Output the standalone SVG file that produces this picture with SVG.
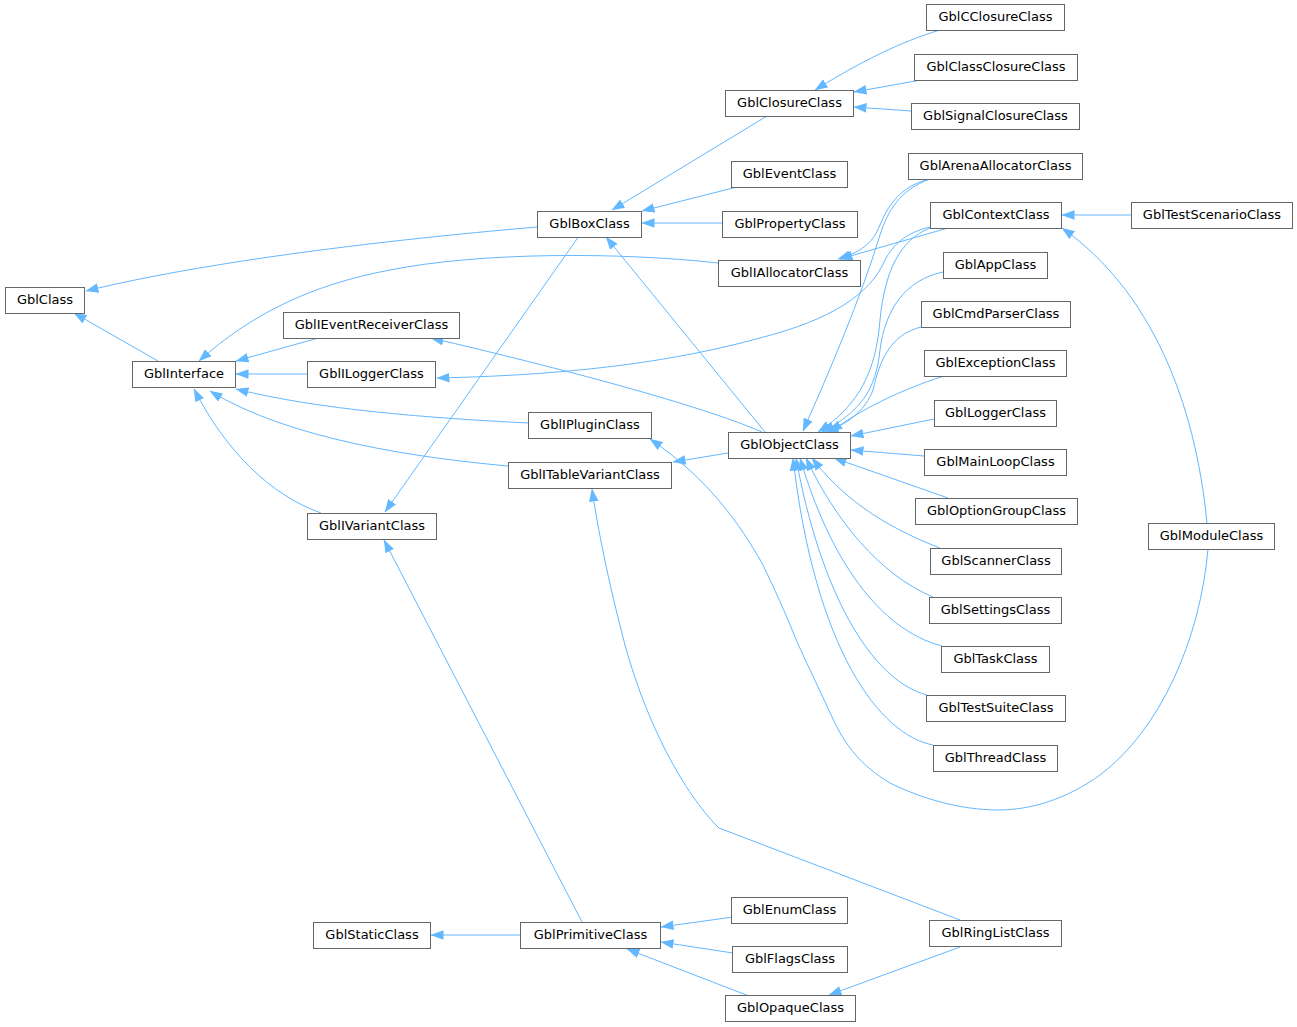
<svg xmlns="http://www.w3.org/2000/svg" width="1297" height="1027" viewBox="0 0 1297 1027">
<style>
.n rect{fill:#ffffff;stroke:#666666;stroke-width:1}
.n text{font-family:"DejaVu Sans","Liberation Sans",sans-serif;font-size:13px;fill:#000000;text-anchor:middle;transform:translateY(-1px)}
.e path{fill:none;stroke:#63b8ff;stroke-width:1;marker-end:url(#ah)}
</style>
<defs>
<marker id="ah" viewBox="0 0 13 10" refX="12.5" refY="5" markerWidth="13" markerHeight="10" markerUnits="userSpaceOnUse" orient="auto">
<path d="M0,0.2 L13,5 L0,9.8 z" fill="#63b8ff" stroke="none"/>
</marker>
</defs>
<rect width="1297" height="1027" fill="#ffffff"/>
<g id="connectors" class="e">
<path d="M537,227 C420,237 220,258 86,291"/>
<path d="M158,361 L74,313"/>
<path d="M718,263 C620,252 480,252 390,270 C310,285 250,315 199,361"/>
<path d="M322,337 L236,361"/>
<path d="M307,374 L236,374"/>
<path d="M528,423 C430,418 320,410 236,389"/>
<path d="M508,466 C420,458 290,440 210,391"/>
<path d="M321,513 C270,495 225,450 194,389"/>
<path d="M762,432 C700,405 560,368 431,338"/>
<path d="M930,227 C905,233 893,245 885,260 C870,295 830,320 760,338 C680,360 580,375 437,378"/>
<path d="M1208,549 C1200,640 1160,730 1100,775 C1065,800 1030,810 998,810 C960,810 920,798 890,783 C860,765 845,745 832,717 C815,680 805,660 795,637 C785,612 775,590 762,563 C740,525 710,480 650,439"/>
<path d="M728,453 L673,462"/>
<path d="M960,920 L719,828 C690,800 650,735 625,645 C608,580 598,530 592,489"/>
<path d="M579,236 L385,512"/>
<path d="M582,922 L384,540"/>
<path d="M767,116 L612,210"/>
<path d="M737,187 L642,211"/>
<path d="M722,223 L642,223"/>
<path d="M765,432 L606,237"/>
<path d="M940,30 C900,42 860,62 815,90"/>
<path d="M921,80 L854,92"/>
<path d="M911,111 L854,107"/>
<path d="M930,179 C905,185 890,200 880,225 C872,245 860,252 838,259"/>
<path d="M948,228 L840,259"/>
<path d="M930,179 C900,190 888,210 880,235 C860,300 830,370 803,431"/>
<path d="M930,228 C900,240 885,270 880,320 C876,370 860,405 818,432"/>
<path d="M943,272 C905,280 885,310 880,350 C876,390 860,412 822,432"/>
<path d="M921,327 C890,335 880,360 873,390 C865,412 845,425 826,432"/>
<path d="M944,376 C900,390 860,410 830,432"/>
<path d="M934,419 L851,436"/>
<path d="M924,456 L851,450"/>
<path d="M948,498 L834,458"/>
<path d="M940,548 C880,525 840,495 812,458"/>
<path d="M933,597 C880,575 835,520 806,458"/>
<path d="M942,646 C880,630 830,560 800,458"/>
<path d="M927,695 C870,680 820,590 796,458"/>
<path d="M933,745 C880,735 815,650 793,458"/>
<path d="M1131,215 L1062,215"/>
<path d="M1207,523 C1195,400 1150,290 1062,228"/>
<path d="M733,917 L661,927"/>
<path d="M733,953 L661,942"/>
<path d="M749,996 L627,949"/>
<path d="M960,947 L829,995"/>
<path d="M520,935 L431,935"/>
</g>
<g id="GblClass" class="n"><rect x="5.5" y="287.5" width="79" height="26"/><text x="45" y="305">GblClass</text></g>
<g id="GblInterface" class="n"><rect x="132.5" y="361.5" width="103" height="26"/><text x="184" y="379">GblInterface</text></g>
<g id="GblIEventReceiverClass" class="n"><rect x="283.5" y="312.5" width="176" height="26"/><text x="371.5" y="330">GblIEventReceiverClass</text></g>
<g id="GblILoggerClass" class="n"><rect x="307.5" y="361.5" width="128" height="26"/><text x="371.5" y="379">GblILoggerClass</text></g>
<g id="GblIVariantClass" class="n"><rect x="307.5" y="513.5" width="129" height="26"/><text x="372" y="531">GblIVariantClass</text></g>
<g id="GblStaticClass" class="n"><rect x="313.5" y="922.5" width="117" height="26"/><text x="372" y="940">GblStaticClass</text></g>
<g id="GblBoxClass" class="n"><rect x="537.5" y="211.5" width="104" height="26"/><text x="589.5" y="229">GblBoxClass</text></g>
<g id="GblIPluginClass" class="n"><rect x="528.5" y="412.5" width="123" height="26"/><text x="590" y="430">GblIPluginClass</text></g>
<g id="GblITableVariantClass" class="n"><rect x="508.5" y="462.5" width="163" height="26"/><text x="590" y="480">GblITableVariantClass</text></g>
<g id="GblPrimitiveClass" class="n"><rect x="520.5" y="922.5" width="140" height="26"/><text x="590.5" y="940">GblPrimitiveClass</text></g>
<g id="GblClosureClass" class="n"><rect x="725.5" y="90.5" width="128" height="26"/><text x="789.5" y="108">GblClosureClass</text></g>
<g id="GblEventClass" class="n"><rect x="731.5" y="161.5" width="116" height="26"/><text x="789.5" y="179">GblEventClass</text></g>
<g id="GblPropertyClass" class="n"><rect x="722.5" y="211.5" width="135" height="26"/><text x="790" y="229">GblPropertyClass</text></g>
<g id="GblIAllocatorClass" class="n"><rect x="718.5" y="260.5" width="142" height="26"/><text x="789.5" y="278">GblIAllocatorClass</text></g>
<g id="GblObjectClass" class="n"><rect x="728.5" y="432.5" width="122" height="26"/><text x="789.5" y="450">GblObjectClass</text></g>
<g id="GblEnumClass" class="n"><rect x="731.5" y="897.5" width="116" height="26"/><text x="789.5" y="915">GblEnumClass</text></g>
<g id="GblFlagsClass" class="n"><rect x="732.5" y="946.5" width="115" height="26"/><text x="790" y="964">GblFlagsClass</text></g>
<g id="GblOpaqueClass" class="n"><rect x="725.5" y="995.5" width="130" height="26"/><text x="790.5" y="1013">GblOpaqueClass</text></g>
<g id="GblCClosureClass" class="n"><rect x="926.5" y="4.5" width="138" height="26"/><text x="995.5" y="22">GblCClosureClass</text></g>
<g id="GblClassClosureClass" class="n"><rect x="914.5" y="54.5" width="163" height="26"/><text x="996" y="72">GblClassClosureClass</text></g>
<g id="GblSignalClosureClass" class="n"><rect x="911.5" y="103.5" width="168" height="26"/><text x="995.5" y="121">GblSignalClosureClass</text></g>
<g id="GblArenaAllocatorClass" class="n"><rect x="908.5" y="153.5" width="174" height="26"/><text x="995.5" y="171">GblArenaAllocatorClass</text></g>
<g id="GblContextClass" class="n"><rect x="930.5" y="202.5" width="131" height="26"/><text x="996" y="220">GblContextClass</text></g>
<g id="GblAppClass" class="n"><rect x="943.5" y="252.5" width="104" height="26"/><text x="995.5" y="270">GblAppClass</text></g>
<g id="GblCmdParserClass" class="n"><rect x="921.5" y="301.5" width="149" height="26"/><text x="996" y="319">GblCmdParserClass</text></g>
<g id="GblExceptionClass" class="n"><rect x="924.5" y="350.5" width="142" height="26"/><text x="995.5" y="368">GblExceptionClass</text></g>
<g id="GblLoggerClass" class="n"><rect x="934.5" y="400.5" width="122" height="26"/><text x="995.5" y="418">GblLoggerClass</text></g>
<g id="GblMainLoopClass" class="n"><rect x="924.5" y="449.5" width="142" height="26"/><text x="995.5" y="467">GblMainLoopClass</text></g>
<g id="GblOptionGroupClass" class="n"><rect x="915.5" y="498.5" width="162" height="26"/><text x="996.5" y="516">GblOptionGroupClass</text></g>
<g id="GblScannerClass" class="n"><rect x="930.5" y="548.5" width="131" height="26"/><text x="996" y="566">GblScannerClass</text></g>
<g id="GblSettingsClass" class="n"><rect x="929.5" y="597.5" width="132" height="26"/><text x="995.5" y="615">GblSettingsClass</text></g>
<g id="GblTaskClass" class="n"><rect x="941.5" y="646.5" width="108" height="26"/><text x="995.5" y="664">GblTaskClass</text></g>
<g id="GblTestSuiteClass" class="n"><rect x="926.5" y="695.5" width="139" height="26"/><text x="996" y="713">GblTestSuiteClass</text></g>
<g id="GblThreadClass" class="n"><rect x="933.5" y="745.5" width="124" height="26"/><text x="995.5" y="763">GblThreadClass</text></g>
<g id="GblRingListClass" class="n"><rect x="929.5" y="920.5" width="132" height="26"/><text x="995.5" y="938">GblRingListClass</text></g>
<g id="GblTestScenarioClass" class="n"><rect x="1131.5" y="202.5" width="161" height="26"/><text x="1212" y="220">GblTestScenarioClass</text></g>
<g id="GblModuleClass" class="n"><rect x="1148.5" y="523.5" width="126" height="26"/><text x="1211.5" y="541">GblModuleClass</text></g>
</svg>
